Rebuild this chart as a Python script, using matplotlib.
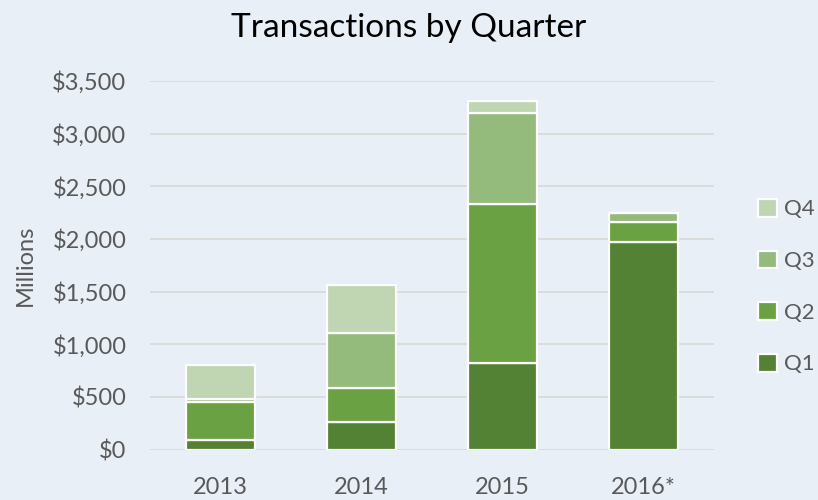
import numpy as np
import matplotlib.pyplot as plt
from matplotlib.ticker import FuncFormatter

# values in millions
years = ['2013', '2014', '2015', '2016*']
q1 = [88, 263, 818, 1975]
q2 = [365, 324, 1513, 185]
q3 = [29, 523, 866, 91]
q4 = [317, 450, 117, 0]
quarters = ['Q1', 'Q2', 'Q3', 'Q4']
colors = ['#548235', '#6AA142', '#95BB7C', '#C0D6B3']

bg = '#E9EFF7'
txt = '#595959'
plt.rcParams['font.family'] = ['Lato', 'DejaVu Sans']

fig = plt.figure(figsize=(8.18, 5), dpi=100, facecolor=bg)
ax = fig.add_axes([0.1834, 0.101, 0.6896, 0.737])
ax.set_facecolor(bg)

x = np.arange(len(years))
bottom = np.zeros(len(years))
handles = []
for name, vals, c in zip(quarters, [q1, q2, q3, q4], colors):
    vals = np.array(vals, dtype=float)
    b = ax.bar(x, vals, 0.49, bottom=bottom, color=c, edgecolor='white',
               linewidth=1.6, label=name, zorder=3)
    handles.append(b)
    bottom += vals

ax.set_xlim(-0.5, len(years) - 0.5)
ax.set_ylim(0, 3500)
ax.set_yticks(np.arange(0, 3501, 500))
ax.yaxis.set_major_formatter(FuncFormatter(lambda v, p: '${:,.0f}'.format(v)))
ax.set_xticks(x)
ax.set_xticklabels(years)
ax.grid(axis='y', color='#D9D9D9', linewidth=1.3, zorder=0)
for s in ax.spines.values():
    s.set_visible(False)
ax.tick_params(axis='both', length=0, labelsize=17, labelcolor=txt)
ax.tick_params(axis='x', pad=20)
ax.tick_params(axis='y', pad=17)

ax.set_ylabel('Millions', fontsize=17, color=txt, labelpad=12)
fig.text(0.5, 0.944, 'Transactions by Quarter', fontsize=24, color='black',
         ha='center', va='center')

leg = ax.legend(handles[::-1], quarters[::-1], loc='center left',
                bbox_to_anchor=(1.043, 0.442), frameon=False, fontsize=16,
                handlelength=0.85, handleheight=0.85, handletextpad=0.3,
                labelspacing=1.4, labelcolor=txt)

fig.savefig('out.png', dpi=100, facecolor=bg)
